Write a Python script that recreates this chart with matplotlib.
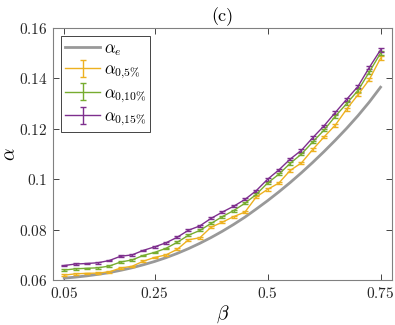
import numpy as np
import matplotlib
matplotlib.use('Agg')
import matplotlib.pyplot as plt

plt.rcParams['mathtext.fontset'] = 'cm'
plt.rcParams['font.family'] = 'serif'
plt.rcParams['font.serif'] = ['cmr10', 'DejaVu Serif']
plt.rcParams['axes.unicode_minus'] = False

# beta values (0.05:0.025:0.75)
beta = [0.05, 0.075, 0.1, 0.125, 0.15, 0.175, 0.2, 0.225, 0.25, 0.275,
        0.3, 0.325, 0.35, 0.375, 0.4, 0.425, 0.45, 0.475, 0.5, 0.525,
        0.55, 0.575, 0.6, 0.625, 0.65, 0.675, 0.7, 0.725, 0.75]

alpha_e = [0.0608, 0.0612, 0.0617, 0.0623, 0.0630, 0.0639, 0.0649, 0.0661,
           0.0674, 0.0689, 0.0706, 0.0725, 0.0746, 0.0769, 0.0794, 0.0821,
           0.0850, 0.0882, 0.0915, 0.0950, 0.0987, 0.1026, 0.1067, 0.1110,
           0.1155, 0.1202, 0.1252, 0.1306, 0.1365]

alpha_5 = [0.0620, 0.0625, 0.0627, 0.0628, 0.0633, 0.0648, 0.0655, 0.0675,
           0.0690, 0.0700, 0.0722, 0.0760, 0.0768, 0.0810, 0.0830, 0.0852,
           0.0870, 0.0930, 0.0960, 0.0985, 0.1035, 0.1065, 0.1118, 0.1168,
           0.1215, 0.1278, 0.1335, 0.1395, 0.1480]

alpha_10 = [0.0640, 0.0645, 0.0647, 0.0649, 0.0656, 0.0672, 0.0680, 0.0698,
            0.0710, 0.0726, 0.0750, 0.0778, 0.0797, 0.0825, 0.0852, 0.0876,
            0.0905, 0.0940, 0.0985, 0.1020, 0.1063, 0.1100, 0.1148, 0.1195,
            0.1250, 0.1300, 0.1352, 0.1425, 0.1500]

alpha_15 = [0.0658, 0.0664, 0.0666, 0.0669, 0.0678, 0.0695, 0.0700, 0.0718,
            0.0732, 0.0748, 0.0770, 0.0798, 0.0815, 0.0845, 0.0870, 0.0893,
            0.0920, 0.0955, 0.1000, 0.1037, 0.1080, 0.1115, 0.1165, 0.1212,
            0.1265, 0.1317, 0.1368, 0.1443, 0.1513]

# error bar half-widths
err = [0.0003, 0.0003, 0.0003, 0.0003, 0.0003, 0.0003, 0.0003, 0.0003,
       0.0003, 0.0003, 0.0004, 0.0004, 0.0004, 0.0004, 0.0004, 0.0004,
       0.0004, 0.0004, 0.0005, 0.0005, 0.0005, 0.0005, 0.0005, 0.0005,
       0.0006, 0.0006, 0.0006, 0.0006, 0.0007]

xticks = [0.05, 0.25, 0.5, 0.75]
xticklabels = ['0.05', '0.25', '0.5', '0.75']
yticks = [0.06, 0.08, 0.1, 0.12, 0.14, 0.16]
yticklabels = ['0.06', '0.08', '0.1', '0.12', '0.14', '0.16']

fig = plt.figure(figsize=(3.95, 3.25), dpi=100)
ax = fig.add_axes([0.134, 0.138, 0.858, 0.776])

ax.plot(beta, alpha_e, color='#999999', lw=2, label=r'$\alpha_e$')
ax.errorbar(beta, alpha_5, yerr=err, color='#EDB120', lw=1, capsize=2,
            capthick=1, label=r'$\alpha_{0{,}5\%}$')
ax.errorbar(beta, alpha_10, yerr=err, color='#77AC30', lw=1, capsize=2,
            capthick=1, label=r'$\alpha_{0{,}10\%}$')
ax.errorbar(beta, alpha_15, yerr=err, color='#7E2F8E', lw=1, capsize=2,
            capthick=1, label=r'$\alpha_{0{,}15\%}$')

ax.set_xlim(0.025, 0.775)
ax.set_ylim(0.06, 0.16)
ax.set_xticks(xticks)
ax.set_xticklabels(['$' + t + '$' for t in xticklabels])
ax.set_yticks(yticks)
ax.set_yticklabels(['$' + t + '$' for t in yticklabels])
ax.tick_params(direction='in', top=True, right=True, labelsize=11,
               colors='#262626', length=4, width=0.6, pad=4)
for s in ax.spines.values():
    s.set_color('#808080')
    s.set_linewidth(0.8)

ax.set_title('(c)', fontsize=13, pad=5)
ax.set_xlabel(r'$\beta$', fontsize=14, labelpad=2)
ax.set_ylabel(r'$\alpha$', fontsize=14)
ax.yaxis.set_label_coords(-0.1, 0.5)

leg = ax.legend(loc='upper left', fontsize=12, fancybox=False,
                edgecolor='#262626', framealpha=1, handlelength=2.1,
                handletextpad=0.2, borderpad=0.25, labelspacing=0.25,
                borderaxespad=0.5)
leg.get_frame().set_linewidth(0.6)

fig.savefig('out.png', dpi=100)
